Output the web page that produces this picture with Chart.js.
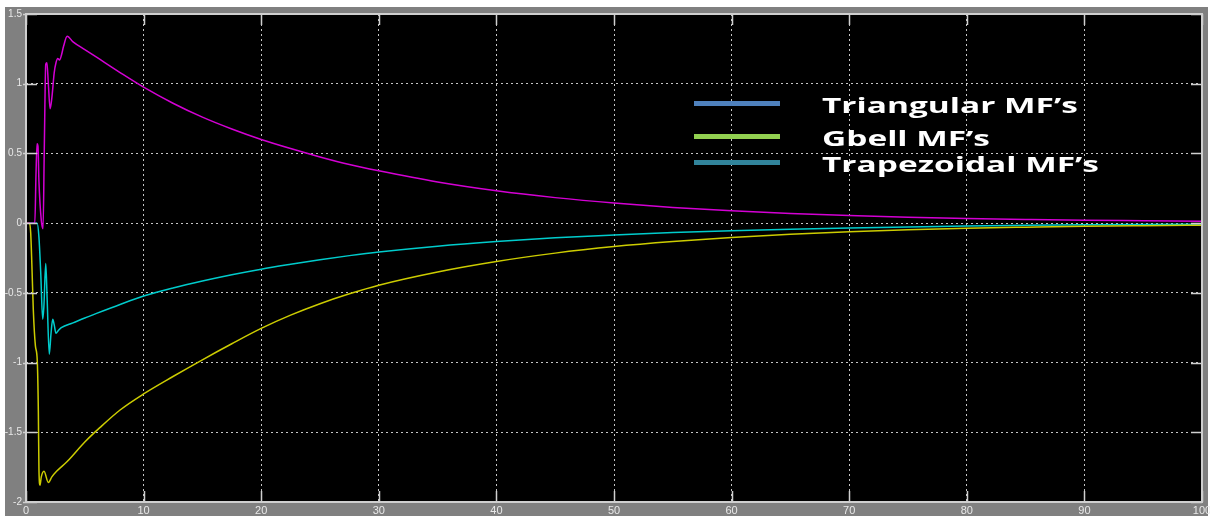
<!DOCTYPE html>
<html>
<head>
<meta charset="utf-8">
<title>Scope output</title>
<script src="https://cdn.jsdelivr.net/npm/chart.js@4.4.1/dist/chart.umd.min.js"></script>
<style>
  body { margin: 0; background: #fff; }
  #wrap { position: relative; width: 1210px; height: 516px; }
  .key { position: absolute; left: 694px; width: 86px; height: 5px; }
  .keyText {
    position: absolute; left: 822px;
    font: bold 22px "Open Sans", sans-serif; color: #fff;
    line-height: 30px; white-space: nowrap;
    transform: scaleX(1.52); transform-origin: left center;
  }
</style>
</head>
<body>
<div id="wrap">
  <canvas id="scope" width="1210" height="516"></canvas>
</div>
<script>
// axis ticks
const xTicks = [0, 10, 20, 30, 40, 50, 60, 70, 80, 90, 100];
const yTicks = [-2, -1.5, -1, -0.5, 0, 0.5, 1, 1.5];

// legend (the colours in the legend don't match the traces in the original)
const legendLabels = ['Triangular MF’s', 'Gbell MF’s', 'Trapezoidal MF’s'];
const legendColors = ['#4f81bd', '#92d050', '#31849b'];

// magenta trace
const magentaT = [0, 0.75, 0.85, 0.94, 1.02, 1.1, 1.3, 1.45, 1.55, 1.68, 1.78, 1.9, 2.05, 2.2, 2.4, 2.55, 2.7, 2.85, 3.0, 3.2, 3.5,
  4, 5, 6, 8, 10, 12.5, 15, 17.5, 20, 22.5, 25, 27.5, 30, 35, 40, 45, 50, 55, 60, 65, 70, 75, 80, 85, 90, 95, 100];
const magentaV = [0, 0, 0.35, 0.57, 0.55, 0.3, 0.02, -0.04, 0.5, 1.14, 1.15, 1.0, 0.82, 0.9, 1.08, 1.15, 1.18, 1.17, 1.2, 1.27, 1.34,
  1.30, 1.245, 1.19, 1.08, 0.975, 0.86, 0.76, 0.675, 0.60, 0.535, 0.475, 0.42, 0.375, 0.295, 0.232, 0.183, 0.144, 0.113, 0.089, 0.07, 0.055, 0.043, 0.034, 0.027, 0.021, 0.017, 0.013];

// yellow trace
const yellowT = [0, 0.3, 0.4, 0.5, 0.62, 0.8, 0.96, 1.05, 1.1, 1.19, 1.3, 1.53, 1.9, 2.2, 2.6, 3.5, 5, 6.3, 8,
  10, 12.5, 15, 17.5, 20, 22.5, 25, 27.5, 30, 35, 40, 45, 50, 55, 60, 65, 70, 75, 80, 85, 90, 95, 100];
const yellowV = [0, 0, -0.07, -0.3, -0.62, -0.88, -0.99, -1.35, -1.76, -1.88, -1.82, -1.78, -1.86, -1.82, -1.78, -1.71, -1.57, -1.465, -1.34,
  -1.225, -1.10, -0.98, -0.865, -0.755, -0.66, -0.578, -0.507, -0.445, -0.35, -0.275, -0.215, -0.168, -0.132, -0.103, -0.08, -0.062, -0.048, -0.037, -0.029, -0.022, -0.018, -0.015];

// cyan trace
const cyanT = [0, 0.95, 1.1, 1.25, 1.42, 1.52, 1.68, 1.8, 1.98, 2.12, 2.27, 2.4, 2.55, 2.75, 3.0, 4, 5, 6, 8,
  10, 12.5, 15, 17.5, 20, 22.5, 25, 27.5, 30, 35, 40, 45, 50, 55, 60, 65, 70, 75, 80, 85, 90, 95, 100];
const cyanV = [0, 0, -0.1, -0.35, -0.69, -0.6, -0.29, -0.55, -0.94, -0.8, -0.69, -0.73, -0.79, -0.77, -0.75, -0.715, -0.68, -0.647, -0.583,
  -0.523, -0.465, -0.415, -0.37, -0.33, -0.295, -0.262, -0.233, -0.207, -0.165, -0.132, -0.105, -0.085, -0.068, -0.054, -0.043, -0.034, -0.027, -0.021, -0.016, -0.012, -0.009, -0.007];

function points(ts, vs) {
  return ts.map((t, i) => ({ x: t, y: vs[i] }));
}

// build the legend as html
const wrap = document.getElementById('wrap');
const keyCenters = [103.5, 136, 162.5];
legendLabels.forEach((label, i) => {
  let sw = document.createElement('div');
  sw.className = 'key';
  sw.style.top = (keyCenters[i] - 2.5) + 'px';
  sw.style.background = legendColors[i];
  wrap.appendChild(sw);

  let txt = document.createElement('div');
  txt.className = 'keyText';
  txt.style.top = (keyCenters[i] + 1.5 - 15.7) + 'px';
  txt.textContent = label;
  wrap.appendChild(txt);
});

// gray scope frame + black plot area
const scopeFrame = {
  id: 'scopeFrame',
  beforeDraw(chart) {
    const ctx = chart.ctx;
    const a = chart.chartArea;
    ctx.save();
    ctx.fillStyle = '#fff';
    ctx.fillRect(0, 0, chart.width, chart.height);
    ctx.fillStyle = '#808080';
    ctx.fillRect(5, 7, 1203, 509);
    ctx.fillStyle = '#000';
    ctx.fillRect(a.left, a.top, a.right - a.left, a.bottom - a.top);
    ctx.restore();
  },
  afterDraw(chart) {
    const ctx = chart.ctx;
    const a = chart.chartArea;
    const xs = chart.scales.x, ys = chart.scales.y;
    ctx.save();
    ctx.strokeStyle = '#cfcfcf';
    ctx.lineWidth = 2;
    ctx.strokeRect(a.left, a.top, a.right - a.left, a.bottom - a.top);
    // little solid ticks on the inside of the frame
    ctx.lineWidth = 1.5;
    ctx.beginPath();
    xTicks.forEach(v => {
      let px = Math.round(xs.getPixelForValue(v)) + 0.5;
      ctx.moveTo(px, a.top); ctx.lineTo(px, a.top + 11);
      ctx.moveTo(px, a.bottom); ctx.lineTo(px, a.bottom - 11);
    });
    yTicks.forEach(v => {
      let py = Math.round(ys.getPixelForValue(v)) + 0.5;
      ctx.moveTo(a.left - 3, py); ctx.lineTo(a.left + 11, py);
      ctx.moveTo(a.right, py); ctx.lineTo(a.right - 11, py);
    });
    ctx.stroke();
    ctx.restore();
  }
};

const tickFont = { family: '"Liberation Sans", Arial, sans-serif', size: 10 };

const scope = new Chart(document.getElementById('scope'), {
  type: 'line',
  data: {
    datasets: [
      { label: 'magenta', data: points(magentaT, magentaV), borderColor: '#d400d4' },
      { label: 'yellow', data: points(yellowT, yellowV), borderColor: '#cccc00' },
      { label: 'cyan', data: points(cyanT, cyanV), borderColor: '#00cccc' }
    ]
  },
  options: {
    responsive: false,
    animation: false,
    devicePixelRatio: 1,
    layout: { padding: { left: 0, top: 14, right: 8, bottom: 0 } },
    elements: {
      line: { borderWidth: 1.5, cubicInterpolationMode: 'monotone' },
      point: { radius: 0 }
    },
    plugins: {
      legend: { display: false },
      tooltip: { enabled: false }
    },
    scales: {
      x: {
        type: 'linear', min: 0, max: 100,
        afterBuildTicks: s => { s.ticks = xTicks.map(v => ({ value: v })); },
        afterFit: s => { s.height = 14; s.paddingLeft = 0; s.paddingRight = 0; },
        grid: { color: 'rgba(220,220,220,0.9)', lineWidth: 1, drawTicks: false },
        border: { display: false, dash: [2, 3] },
        ticks: { color: '#e8e8e8', font: { family: tickFont.family, size: 11 }, padding: 2, maxRotation: 0, autoSkip: false,
          callback: v => String(v) }
      },
      y: {
        type: 'linear', min: -2, max: 1.5,
        afterBuildTicks: s => { s.ticks = yTicks.map(v => ({ value: v })); },
        afterFit: s => { s.width = 26; s.paddingTop = 0; s.paddingBottom = 0; },
        grid: { color: 'rgba(220,220,220,0.9)', lineWidth: 1, drawTicks: false },
        border: { display: false, dash: [2, 3] },
        ticks: { color: '#e8e8e8', font: tickFont, padding: 4, autoSkip: false,
          callback: v => String(v) }
      }
    }
  },
  plugins: [scopeFrame]
});
</script>
</body>
</html>
